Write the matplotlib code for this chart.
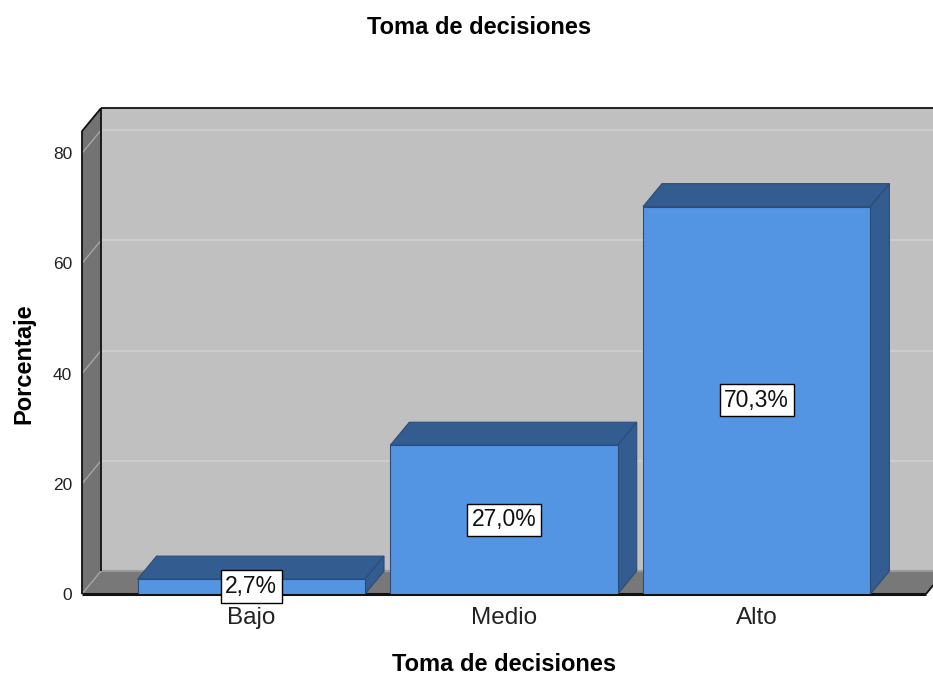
import matplotlib
matplotlib.use("Agg")
import matplotlib.pyplot as plt
from matplotlib.patches import Polygon
from matplotlib import font_manager

# ---- data ----
categories = ["Bajo", "Medio", "Alto"]
percentages = [2.7, 27.0, 70.3]
value_labels = ["2,7%", "27,0%", "70,3%"]
y_ticks = [0, 20, 40, 60, 80]
title = "Toma de decisiones"
x_title = "Toma de decisiones"
y_title = "Porcentaje"

# ---- fonts ----
names = {f.name for f in font_manager.fontManager.ttflist}
REG = "Liberation Sans" if "Liberation Sans" in names else "DejaVu Sans"
NARROW = "Liberation Sans Narrow" if "Liberation Sans Narrow" in names else REG
narrow_size = 19 if NARROW != REG else 16.5

# ---- layout ----
W, H = 933, 675
fig = plt.figure(figsize=(W / 100, H / 100), dpi=100)
ax_left, ax_right, floor_y, px_per_unit = 82, 926, 594, 5.51
YMAX = 84
ax = fig.add_axes([ax_left / W, (H - floor_y) / H, (ax_right - ax_left) / W,
                   YMAX * px_per_unit / H])
XMIN, XMAX = -0.67, 2.67
ax.set_xlim(XMIN, XMAX)
ax.set_ylim(0, YMAX)
for s in ax.spines.values():
    s.set_visible(False)
ax.patch.set_visible(False)

# depth offset in data units
DX_PX, DY_PX = 19, 23
dxd = DX_PX * (XMAX - XMIN) / (ax_right - ax_left)
dyd = DY_PX / px_per_unit

wall_back = "#c0c0c0"
wall_left = "#737373"
floor_c = "#787878"
grid_back = "#d0d0d0"
grid_left = "#a6a6a6"
edge = "#111111"
front_c = "#5394e3"
dark_c = "#335d90"
bar_edge = "#2b4c77"

XR = XMAX + dxd + 0.2
# back wall
ax.add_patch(Polygon([(XMIN + dxd, dyd), (XR, dyd), (XR, YMAX + dyd), (XMIN + dxd, YMAX + dyd)],
                     closed=True, facecolor=wall_back, edgecolor="none", zorder=0, clip_on=False))
for v in y_ticks[1:]:
    ax.plot([XMIN + dxd, XR], [v + dyd, v + dyd], color=grid_back, lw=1.2, zorder=1, clip_on=False)
# left wall
ax.add_patch(Polygon([(XMIN, 0), (XMIN, YMAX), (XMIN + dxd, YMAX + dyd), (XMIN + dxd, dyd)],
                     closed=True, facecolor=wall_left, edgecolor="none", zorder=1, clip_on=False))
# floor
ax.add_patch(Polygon([(XMIN, 0), (XMAX, 0), (XMAX + dxd, dyd), (XR, dyd), (XR, dyd), (XMIN + dxd, dyd)],
                     closed=True, facecolor=floor_c, edgecolor="none", zorder=2, clip_on=False))
ax.plot([XMIN + dxd, XR], [dyd, dyd], color="#9a9a9a", lw=1.5, zorder=2.1, clip_on=False)
for v in y_ticks:
    ax.plot([XMIN, XMIN + dxd], [v, v + dyd], color=grid_left, lw=1.0, zorder=2.2, clip_on=False)

# outlines
ln = dict(color=edge, lw=1.3, zorder=2.5, clip_on=False, solid_capstyle="butt")
ax.plot([XMIN + dxd, XR], [YMAX + dyd, YMAX + dyd], **ln)
ax.plot([XMIN + dxd, XMIN + dxd], [dyd, YMAX + dyd], **ln)
ax.plot([XMIN, XMIN], [0, YMAX], **ln)
ax.plot([XMIN, XMIN + dxd], [YMAX, YMAX + dyd], **ln)
ax.plot([XMAX, XMAX + dxd], [0, dyd], **ln)
ax.plot([XMIN, XMAX], [0, 0], color=edge, lw=2.2, zorder=2.6, clip_on=False, solid_capstyle="butt")

# bars
BW = 0.9
xs = list(range(len(categories)))
ax.bar(xs, percentages, width=BW, color=front_c, edgecolor=bar_edge, linewidth=0.8, zorder=5)
for x, v in zip(xs, percentages):
    x0, x1 = x - BW / 2, x + BW / 2
    ax.add_patch(Polygon([(x0, v), (x1, v), (x1 + dxd, v + dyd), (x0 + dxd, v + dyd)],
                         closed=True, facecolor=dark_c, edgecolor=bar_edge, lw=0.8, zorder=4))
    ax.add_patch(Polygon([(x1, 0), (x1, v), (x1 + dxd, v + dyd), (x1 + dxd, dyd)],
                         closed=True, facecolor=dark_c, edgecolor=bar_edge, lw=0.8, zorder=4))

for x, v, lab in zip(xs, percentages, value_labels):
    ax.text(x, v / 2, lab, ha="center", va="center", fontsize=narrow_size,
            family=NARROW, color="#111111", zorder=10,
            bbox=dict(boxstyle="square,pad=0.2", facecolor="white", edgecolor="black", lw=1.0))

# ticks
ax.set_yticks(y_ticks)
ax.set_yticklabels([str(t) for t in y_ticks], fontsize=12.5, family=REG, color="#222222")
ax.set_xticks(xs)
ax.set_xticklabels(categories, fontsize=17.5, family=REG, color="#222222")
ax.tick_params(axis="y", length=0, pad=7)
ax.tick_params(axis="x", length=0, pad=9.5)

# titles
fig.text(479.5 / W, 1 - 34 / H, title, ha="center", va="baseline", fontsize=17,
         fontweight="bold", family=REG)
fig.text(504 / W, 1 - 671 / H, x_title, ha="center", va="baseline", fontsize=17,
         fontweight="bold", family=REG)
fig.text(24 / W, 1 - 364 / H, y_title, ha="center", va="center", rotation=90, fontsize=17,
         fontweight="bold", family=REG)

fig.savefig("out.png", dpi=100)
